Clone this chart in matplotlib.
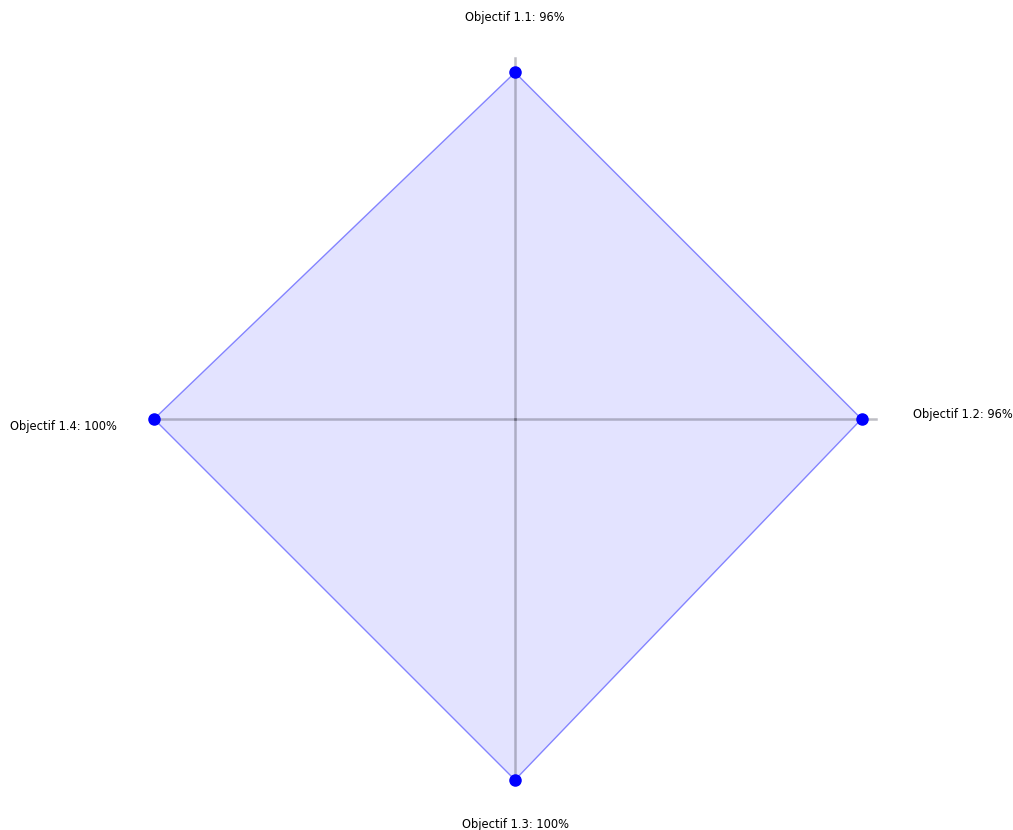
import numpy as np
import matplotlib.pyplot as plt

labels = ['Objectif 1.1', 'Objectif 1.2', 'Objectif 1.3', 'Objectif 1.4']
values = [96, 96, 100, 100]

# clockwise from the top
angles = np.pi / 2 - np.arange(len(labels)) * 2 * np.pi / len(labels)
r = np.array(values) / 100.0
x = r * np.cos(angles)
y = r * np.sin(angles)

fig = plt.figure(figsize=(10.13, 8.30), dpi=100)
ax = fig.add_axes([0, 0, 1, 1])
ax.set_xlim(-515 / 361, (1013 - 515) / 361)
ax.set_ylim(-(830 - 419) / 361, 419 / 361)
ax.axis('off')

# axis spokes
for a in angles:
    ax.plot([0, np.cos(a)], [0, np.sin(a)], color='#555566', alpha=0.38, lw=1.8, zorder=2)

ax.fill(x, y, color='blue', alpha=0.11, lw=0, zorder=1)
ax.plot(np.append(x, x[0]), np.append(y, y[0]), color='blue', alpha=0.45, lw=1.0, zorder=3)
ax.plot(x, y, 'o', color='blue', markersize=8, linestyle='none', zorder=4)

# labels
offsets = [(0, 1.113, 'center'), (1.102, 0.012, 'left'), (0, -1.122, 'center'), (-1.102, -0.02, 'right')]
for lab, v, (lx, ly, ha) in zip(labels, values, offsets):
    ax.text(lx, ly, f'{lab}: {v}%', ha=ha, va='center', fontsize=8.3)

fig.savefig('out.png', dpi=100)
